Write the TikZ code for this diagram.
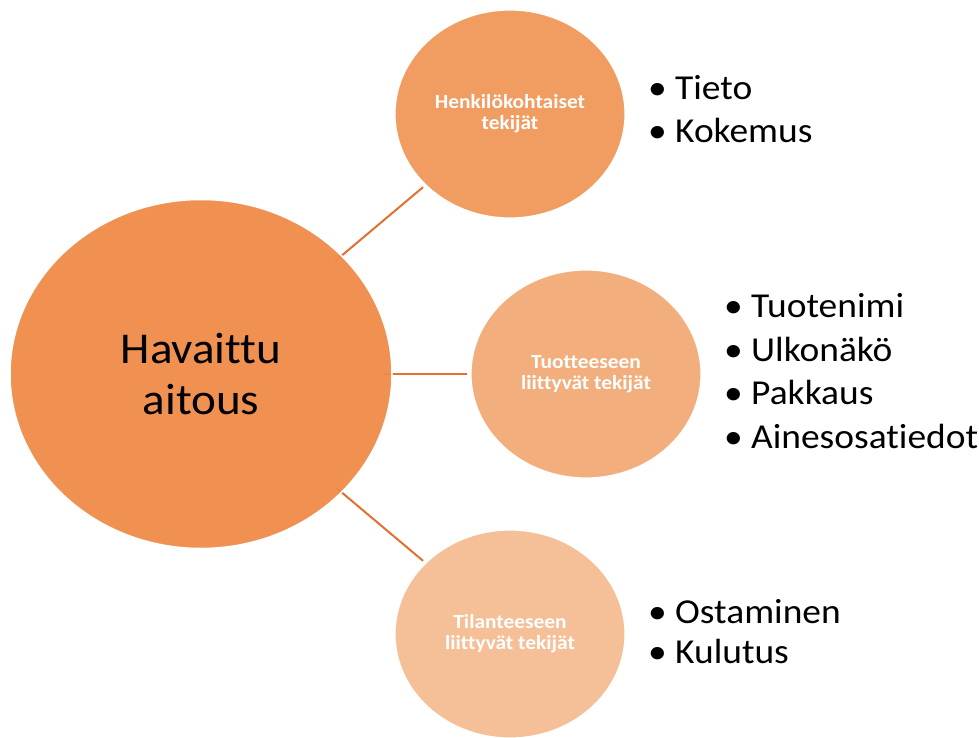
\documentclass[tikz,border=0pt]{standalone}
\usepackage{fontspec}
\setmainfont{Carlito}[FakeStretch=1.07,Ligatures=NoCommon]
\usetikzlibrary{shapes.geometric,positioning,backgrounds}

\definecolor{aitousfill}{RGB}{240,138,70}
\definecolor{henkfill}{RGB}{241,157,98}
\definecolor{tuotfill}{RGB}{243,174,126}
\definecolor{tilafill}{RGB}{245,191,152}
\definecolor{linkcol}{RGB}{226,112,48}

\tikzset{
  main/.style={ellipse,inner sep=0pt,minimum width=382pt,minimum height=349pt,
    fill=aitousfill,fill opacity=0.94,text opacity=1,draw=white,line width=1.5pt,
    align=center,font=\fontsize{44}{51}\selectfont},
  factor/.style={ellipse,inner sep=0pt,minimum width=230pt,minimum height=208pt,
    draw=white,line width=1.2pt,text=white,align=center,
    font=\bfseries\fontsize{20}{21}\selectfont},
  link/.style={draw=linkcol,line width=2pt,shorten <=-9pt,shorten >=3pt},
  item/.style={anchor=base west,inner sep=0pt,font=\fontsize{35}{44}\selectfont},
}

\begin{document}
\begin{tikzpicture}[x=1pt,y=-1pt]
  \useasboundingbox (0,0) rectangle (979,738);
  \node[main] (aitous) at (201,374) {Havaittu\\aitous};
  \node[factor,fill=henkfill] (henk) at (510,114) {Henkilökohtaiset\\tekijät};
  \node[factor,fill=tuotfill] (tuot) at (586,374) {Tuotteeseen\\liittyvät tekijät};
  \node[factor,fill=tilafill] (tila) at (510,634) {Tilanteeseen\\liittyvät tekijät};
  % connectors under the circles
  \begin{scope}[on background layer]
    \draw[link] (aitous) -- (henk);
    \draw[link] (aitous) -- (tuot);
    \draw[link] (aitous) -- (tila);
  \end{scope}
  % bullet lists
  \foreach \y/\txt [count=\i] in {100/Tieto,143/Kokemus}
    \node[item] (henk-\i) at (648,\y) {\makebox[27pt][l]{•}\txt};
  \foreach \y/\txt [count=\i] in {317/Tuotenimi,361/Ulkonäkö,404/Pakkaus,448/Ainesosatiedot}
    \node[item] (tuot-\i) at (724,\y) {\makebox[27pt][l]{•}\txt};
  \foreach \y/\txt [count=\i] in {623/Ostaminen,663/Kulutus}
    \node[item] (tila-\i) at (648,\y) {\makebox[27pt][l]{•}\txt};
\end{tikzpicture}
\end{document}
